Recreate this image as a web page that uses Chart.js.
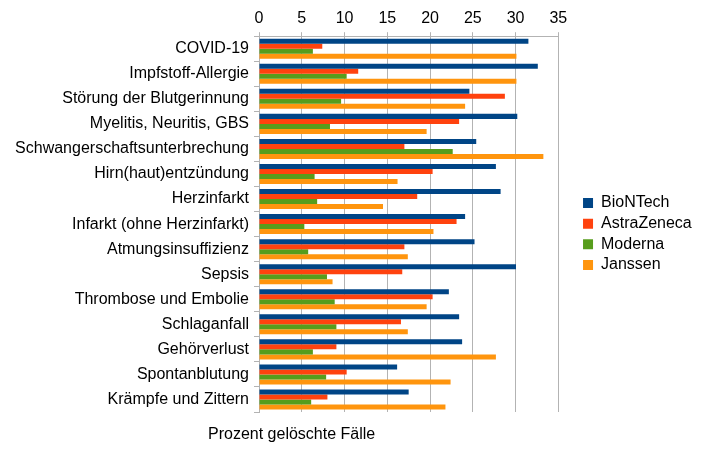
<!DOCTYPE html>
<html>
<head>
<meta charset="utf-8">
<script src="https://cdn.jsdelivr.net/npm/chart.js@4"></script>
<style>
  html, body { margin: 0; padding: 0; background: #fff; }
  #wrap { width: 702px; height: 463px; position: relative; }
</style>
</head>
<body>
<div id="wrap"><canvas id="chart"></canvas></div>
<script>
// categories and values
var categories = ['COVID-19', 'Impfstoff-Allergie', 'Störung der Blutgerinnung', 'Myelitis, Neuritis, GBS',
  'Schwangerschaftsunterbrechung', 'Hirn(haut)entzündung', 'Herzinfarkt', 'Infarkt (ohne Herzinfarkt)',
  'Atmungsinsuffizienz', 'Sepsis', 'Thrombose und Embolie', 'Schlaganfall', 'Gehörverlust',
  'Spontanblutung', 'Krämpfe und Zittern'];
var biontech = [31.5, 32.6, 24.6, 30.2, 25.4, 27.7, 28.25, 24.1, 25.2, 30.05, 22.2, 23.4, 23.75, 16.15, 17.5];
var astrazeneca = [7.4, 11.6, 28.75, 23.4, 17.0, 20.3, 18.5, 23.1, 17.0, 16.75, 20.3, 16.6, 9.05, 10.25, 8.0];
var moderna = [6.3, 10.25, 9.6, 8.3, 22.65, 6.5, 6.8, 5.3, 5.75, 7.95, 8.85, 9.05, 6.3, 7.85, 6.1];
var janssen = [30.1, 30.1, 24.1, 19.6, 33.25, 16.2, 14.5, 20.4, 17.4, 8.6, 19.6, 17.4, 27.7, 22.4, 21.8];
var xTitle = 'Prozent gelöschte Fälle';

var gray = '#b3b3b3';
var font = 'Liberation Sans, Arial, sans-serif';

// axis title sits below the plot, drawn by hand
var bottomTitle = {
  id: 'bottomTitle',
  afterDraw: function (chart) {
    var c = chart.ctx;
    c.save();
    c.fillStyle = '#000';
    c.font = '16px ' + font;
    c.textBaseline = 'middle';
    c.textAlign = 'left';
    c.fillText(xTitle, 208, 435);
    c.restore();
  }
};

var last = categories.length;
new Chart(document.getElementById('chart'), {
  type: 'bar',
  data: {
    labels: categories,
    datasets: [
      { label: 'BioNTech', data: biontech, backgroundColor: '#004586' },
      { label: 'AstraZeneca', data: astrazeneca, backgroundColor: '#ff420e' },
      { label: 'Moderna', data: moderna, backgroundColor: '#579d1c' },
      { label: 'Janssen', data: janssen, backgroundColor: '#ff950e' }
    ]
  },
  options: {
    indexAxis: 'y',
    responsive: true,
    maintainAspectRatio: false,
    animation: false,
    datasets: { bar: { categoryPercentage: 0.8, barPercentage: 1.0 } },
    layout: { padding: { top: 5, bottom: 0, left: 0, right: 8 } },
    scales: {
      x: {
        position: 'top',
        min: 0, max: 35,
        ticks: { stepSize: 5, color: '#000', font: { family: font, size: 16 }, padding: 4 },
        grid: { color: gray, tickLength: 4 },
        border: { color: gray }
      },
      // empty space under the plot for the title
      xPad: {
        type: 'linear', position: 'bottom',
        ticks: { display: false }, grid: { display: false }, border: { display: false },
        afterFit: function (s) { s.height = 51; }
      },
      y: {
        ticks: { color: '#000', font: { family: font, size: 16 }, padding: 5 },
        grid: {
          offset: true,
          tickLength: 5,
          tickColor: gray,
          color: function (ctx) { return (ctx.index === 0 || ctx.index === last) ? gray : 'rgba(0,0,0,0)'; }
        },
        border: { color: gray },
        afterFit: function (s) { s.width = 259; }
      },
      // gap between plot and legend
      yPad: {
        type: 'category', position: 'right',
        ticks: { display: false }, grid: { display: false }, border: { display: false },
        afterFit: function (s) { s.width = 20; }
      }
    },
    plugins: {
      legend: {
        position: 'right',
        labels: { boxWidth: 10, boxHeight: 10, color: '#000', font: { family: font, size: 16 }, padding: 4.7 }
      },
      tooltip: { enabled: false }
    }
  },
  plugins: [bottomTitle]
});
</script>
</body>
</html>
